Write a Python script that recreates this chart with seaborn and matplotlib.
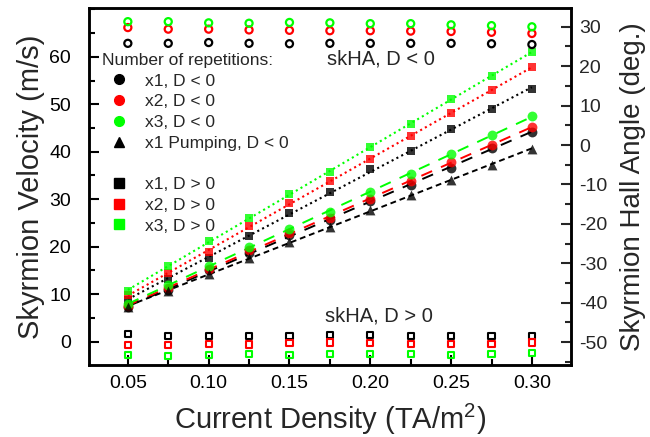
"""Skyrmion velocity + skyrmion Hall angle vs current density."""
import matplotlib
matplotlib.use("Agg")
import matplotlib.pyplot as plt
from matplotlib.lines import Line2D
from matplotlib.ticker import FixedLocator, MultipleLocator
import numpy as np
import seaborn as sns

# current density (TA/m^2)
current = [0.05, 0.075, 0.10, 0.125, 0.15, 0.175, 0.20, 0.225, 0.25, 0.275, 0.30]

# skyrmion velocity (m/s), D < 0 (circles) and pumping (triangles)
v_x1_neg = [7.2, 10.9, 15.1, 18.6, 22.5, 25.6, 29.7, 33.0, 36.6, 40.7, 44.2]
v_x2_neg = [7.6, 11.2, 15.4, 19.2, 22.9, 26.0, 30.0, 33.9, 37.8, 41.4, 45.3]
v_x3_neg = [8.0, 11.9, 15.9, 19.9, 23.7, 27.4, 31.5, 35.4, 39.5, 43.5, 47.5]
v_pump_neg = [7.3, 10.7, 14.2, 17.7, 20.9, 24.1, 27.7, 30.9, 34.0, 37.2, 40.6]

# skyrmion velocity (m/s), D > 0 (squares)
v_x1_pos = [8.8, 13.1, 17.7, 22.3, 27.0, 31.6, 36.3, 40.2, 44.7, 48.9, 53.2]
v_x2_pos = [9.8, 14.4, 18.9, 24.4, 29.1, 33.9, 38.4, 43.3, 48.1, 53.0, 57.8]
v_x3_pos = [10.7, 15.9, 21.1, 26.0, 31.2, 35.8, 40.9, 45.9, 51.0, 55.9, 61.1]

# skyrmion Hall angle (deg.)
ha_x1_neg = [25.8, 25.8, 26.0, 25.8, 25.7, 25.8, 25.8, 25.8, 25.8, 25.7, 25.5]
ha_x2_neg = [29.8, 29.4, 29.4, 29.2, 29.1, 29.0, 29.0, 28.9, 28.8, 28.6, 28.3]
ha_x3_neg = [31.3, 31.3, 31.0, 30.9, 31.1, 31.0, 30.8, 30.8, 30.5, 30.3, 30.0]
ha_x1_pos = [-48.0, -48.4, -48.5, -48.4, -48.4, -48.3, -48.2, -48.4, -48.4, -48.5, -48.4]
ha_x2_pos = [-50.7, -50.8, -50.5, -50.6, -50.3, -50.1, -50.2, -50.5, -50.5, -50.4, -50.1]
ha_x3_pos = [-53.2, -53.6, -53.2, -53.1, -53.3, -53.1, -53.1, -53.0, -53.2, -53.0, -52.7]

BLACK, RED, GREEN = "#000000", "#ff0000", "#00ff00"

sns.set_theme(style="ticks")
plt.rcParams["font.family"] = ["Liberation Sans", "DejaVu Sans"]
plt.rcParams["mathtext.default"] = "regular"
plt.rcParams["axes.unicode_minus"] = False

fig = plt.figure(figsize=(6.5, 4.37), dpi=100)
ax = fig.add_axes([0.137, 0.165, 0.741, 0.817])
ax2 = ax.twinx()

x = np.array(current)

# squares + dotted fits (D > 0)
for vals, c in [(v_x1_pos, BLACK), (v_x2_pos, RED), (v_x3_pos, GREEN)]:
    sns.regplot(x=x, y=np.array(vals), ax=ax, ci=None, color=c, marker="s",
                scatter_kws={"s": 38, "linewidths": 0, "zorder": 3},
                line_kws={"ls": (0, (1, 1.6)), "lw": 1.5, "zorder": 2})

# circles + dashed fits (D < 0)
for vals, c in [(v_x1_neg, BLACK), (v_x2_neg, RED), (v_x3_neg, GREEN)]:
    sns.regplot(x=x, y=np.array(vals), ax=ax, ci=None, color=c, marker="o",
                scatter_kws={"s": 50, "linewidths": 0, "zorder": 3},
                line_kws={"ls": (0, (6, 5)), "lw": 1.4, "zorder": 2})

sns.regplot(x=x, y=np.array(v_pump_neg), ax=ax, ci=None, color=BLACK, marker="^",
            scatter_kws={"s": 50, "linewidths": 0, "zorder": 3},
            line_kws={"ls": (0, (3, 2)), "lw": 1.4, "zorder": 2})

# Hall angle, open markers on right axis
for vals, c in [(ha_x1_neg, BLACK), (ha_x2_neg, RED), (ha_x3_neg, GREEN)]:
    sns.scatterplot(x=x, y=vals, ax=ax2, marker="o", s=26, facecolor="none",
                    edgecolor=c, linewidth=1.6)
for vals, c in [(ha_x1_pos, BLACK), (ha_x2_pos, RED), (ha_x3_pos, GREEN)]:
    sns.scatterplot(x=x, y=vals, ax=ax2, marker="s", s=20, facecolor="none",
                    edgecolor=c, linewidth=1.5)

ax.set_xlim(0.026, 0.324)
ax.set_ylim(-4.9, 70.3)
ax2.set_ylim(-55.8, 34.8)

ax.xaxis.set_major_locator(FixedLocator([0.05, 0.10, 0.15, 0.20, 0.25, 0.30]))
ax.xaxis.set_minor_locator(MultipleLocator(0.025))
ax.yaxis.set_major_locator(FixedLocator([0, 10, 20, 30, 40, 50, 60]))
ax.yaxis.set_minor_locator(MultipleLocator(5))
ax2.yaxis.set_major_locator(FixedLocator([-50, -40, -30, -20, -10, 0, 10, 20, 30]))
ax2.yaxis.set_minor_locator(MultipleLocator(5))
ax.set_xticklabels(["0.05", "0.10", "0.15", "0.20", "0.25", "0.30"])

ax.tick_params(axis="both", which="both", direction="in", top=False, right=False,
               width=1.5, labelsize=14, colors="black")
ax.tick_params(axis="both", which="major", length=7)
ax.tick_params(axis="both", which="minor", length=4)
ax.tick_params(axis="y", pad=13)
ax.tick_params(axis="x", pad=7)
ax2.tick_params(axis="y", which="both", direction="in", width=1.5, labelsize=14, pad=6)
ax2.tick_params(axis="y", which="major", length=7)
ax2.tick_params(axis="y", which="minor", length=4)

for a in (ax, ax2):
    for sp in a.spines.values():
        sp.set_visible(True)
        sp.set_linewidth(1.8)
        sp.set_color("black")

ax.set_xlabel("Current Density (TA/m$^2$)", fontsize=21, labelpad=7)
ax.set_ylabel("Skyrmion Velocity (m/s)", fontsize=21, labelpad=3)
ax2.set_ylabel("Skyrmion Hall Angle (deg.)", fontsize=20, labelpad=9)

ax.text(0.495, 0.857, "skHA, D < 0", transform=ax.transAxes, fontsize=14.5,
        va="center", ha="left")
ax.text(0.49, 0.136, "skHA, D > 0", transform=ax.transAxes, fontsize=14.5,
        va="center", ha="left")

handles = [
    Line2D([], [], ls="none", marker="o", color=BLACK, markersize=7),
    Line2D([], [], ls="none", marker="o", color=RED, markersize=7),
    Line2D([], [], ls="none", marker="o", color=GREEN, markersize=7),
    Line2D([], [], ls="none", marker="^", color=BLACK, markersize=7),
    Line2D([], [], ls="none"),
    Line2D([], [], ls="none", marker="s", color=BLACK, markersize=6.5),
    Line2D([], [], ls="none", marker="s", color=RED, markersize=6.5),
    Line2D([], [], ls="none", marker="s", color=GREEN, markersize=6.5),
]
labels = ["x1, D < 0", "x2, D < 0", "x3, D < 0", "x1 Pumping, D < 0", " ",
          "x1, D > 0", "x2, D > 0", "x3, D > 0"]
leg = ax.legend(handles, labels, title="Number of repetitions:", loc="upper left",
                bbox_to_anchor=(0.027, 0.874), frameon=False, fontsize=12.5,
                title_fontsize=12.5, alignment="left", handlelength=2.0,
                handletextpad=0.45, labelspacing=0.32, borderpad=0,
                borderaxespad=0)
leg.set_zorder(5)

fig.savefig("out.png", dpi=100)
